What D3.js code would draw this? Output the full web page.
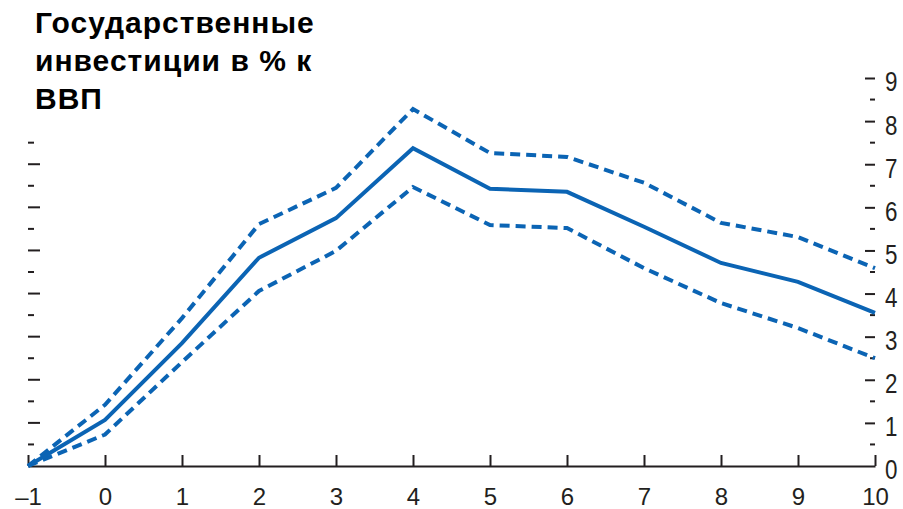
<!DOCTYPE html>
<html>
<head>
<meta charset="utf-8">
<script src="https://cdn.jsdelivr.net/npm/d3@7"></script>
<style>
  body { margin: 0; background: #fff; }
  text { font-family: "Liberation Sans", Arial, sans-serif; fill: #231f20; }
  .title { font-weight: bold; font-size: 30px; letter-spacing: 1px; fill: #000; }
</style>
</head>
<body>
<svg id="chart" width="903" height="509"></svg>
<script>
// years after the shock
const years = [-1, 0, 1, 2, 3, 4, 5, 6, 7, 8, 9, 10];
// point estimate and confidence band
const estimate = [0, 1.07, 2.85, 4.83, 5.75, 7.37, 6.43, 6.36, 5.55, 4.71, 4.27, 3.55];
const upper    = [0, 1.42, 3.43, 5.61, 6.45, 8.28, 7.26, 7.17, 6.57, 5.64, 5.31, 4.59];
const lower    = [0, 0.73, 2.41, 4.06, 4.99, 6.47, 5.59, 5.52, 4.59, 3.78, 3.20, 2.50];
const rightTicks = [0, 1, 2, 3, 4, 5, 6, 7, 8, 9];
const titleLines = ["Государственные", "инвестиции в % к", "ВВП"];

const colors = {
  line: "#0b64b4",
  axis: "#231f20"
};

const svg = d3.select("#chart");
const plotLeft = 28, plotRight = 875, plotTop = 78, plotBottom = 466;

const x = d3.scaleLinear().domain([-1, 10]).range([plotLeft, plotRight]);
const y = d3.scaleLinear().domain([0, 9]).range([plotBottom, plotTop]);

// title
svg.append("text")
  .attr("class", "title")
  .selectAll("tspan")
  .data(titleLines)
  .enter().append("tspan")
  .attr("x", 35)
  .attr("y", (d, i) => 33 + i * 38)
  .text(d => d);

// x axis
const xAxis = svg.append("g")
  .attr("transform", `translate(0,${plotBottom})`)
  .call(d3.axisBottom(x).tickValues(years).tickSize(0).tickPadding(22)
    .tickFormat(d => d < 0 ? "\u2013" + Math.abs(d) : d));
xAxis.select(".domain").attr("stroke", colors.axis).attr("stroke-width", 2);
xAxis.selectAll("text").style("font-size", "24px");
xAxis.selectAll(".tick").append("line")
  .attr("y1", 0).attr("y2", -11)
  .attr("stroke", colors.axis).attr("stroke-width", 2);

// left ticks (no labels)
const halfTicks = d3.range(1, 16).map(d => d / 2);
svg.append("g").selectAll("line")
  .data(halfTicks)
  .enter().append("line")
  .attr("x1", plotLeft)
  .attr("x2", d => Number.isInteger(d) ? plotLeft + 12 : plotLeft + 6)
  .attr("y1", d => y(d)).attr("y2", d => y(d))
  .attr("stroke", colors.axis).attr("stroke-width", 2);

// right axis
const yAxis = svg.append("g")
  .attr("transform", `translate(${plotRight},0)`)
  .call(d3.axisRight(y).tickValues(rightTicks).tickSize(0).tickPadding(0));
yAxis.select(".domain").remove();
yAxis.selectAll("text")
  .style("font-size", "28px")
  .attr("x", 0)
  .attr("dy", "0.46em")
  .attr("transform", "translate(10,0) scale(0.8,1)");
yAxis.selectAll(".tick").filter(d => d > 0).append("line")
  .attr("x1", -10).attr("x2", 0)
  .attr("stroke", colors.axis).attr("stroke-width", 2);
svg.append("g").selectAll("line")
  .data(d3.range(0, 9).map(d => d + 0.5))
  .enter().append("line")
  .attr("x1", plotRight - 5).attr("x2", plotRight)
  .attr("y1", d => y(d)).attr("y2", d => y(d))
  .attr("stroke", colors.axis).attr("stroke-width", 2);

// lines
const line = d3.line()
  .x((d, i) => x(years[i]))
  .y(d => y(d));

const series = [
  { values: upper, dash: "10,6" },
  { values: lower, dash: "10,6" },
  { values: estimate, dash: null }
];

svg.append("g").selectAll("path")
  .data(series)
  .enter().append("path")
  .attr("d", d => line(d.values))
  .attr("fill", "none")
  .attr("stroke", colors.line)
  .attr("stroke-width", 4)
  .attr("stroke-dasharray", d => d.dash);
</script>
</body>
</html>
